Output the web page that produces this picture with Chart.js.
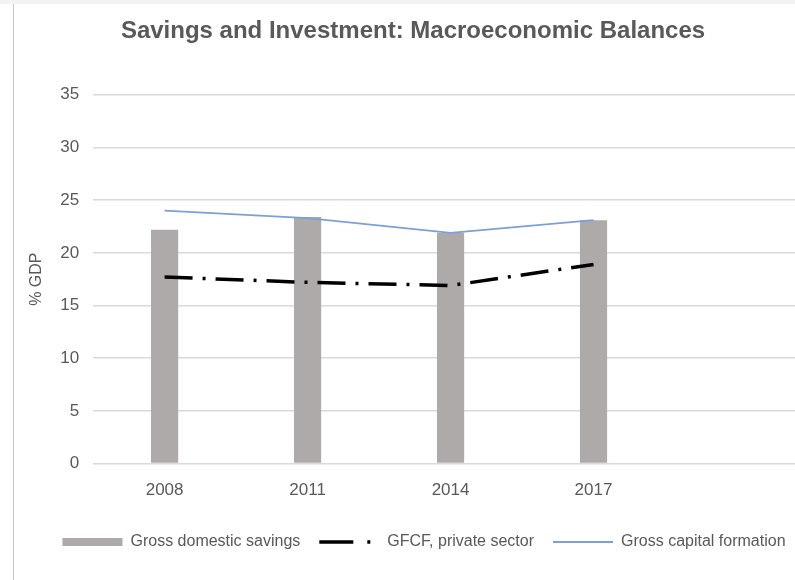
<!DOCTYPE html>
<html>
<head>
<meta charset="utf-8">
<script src="https://cdn.jsdelivr.net/npm/chart.js@4.4.0/dist/chart.umd.min.js"></script>
<style>
  html, body { margin: 0; padding: 0; background: #fff; overflow: hidden; }
  body { width: 795px; height: 580px; position: relative; }
  .topband { position: absolute; left: 0; top: 0; width: 795px; height: 4px; background: #f3f3f3; }
  .leftline { position: absolute; left: 13px; top: 4px; width: 1px; height: 576px; background: #c4c4c4; }
  .wrap { position: absolute; left: 14px; top: 4px; width: 812px; height: 576px; }
</style>
</head>
<body>
<div class="topband"></div>
<div class="leftline"></div>
<div class="wrap"><canvas id="chart" width="812" height="576"></canvas></div>
<script>
const years = ['2008', '2011', '2014', '2017', ''];
const grossDomesticSavings = [22.2, 23.4, 21.9, 23.1, null];
const gfcfPrivate = [17.7, 17.2, 16.9, 18.9, null];
const grossCapitalFormation = [24.0, 23.3, 21.9, 23.1, null];

const textColor = '#595959';
const fontFamily = '"Liberation Sans", Arial, sans-serif';

// the legend in the picture sits a little right of the title
const legendShift = {
  id: 'legendShift',
  afterLayout(chart) {
    const l = chart.legend;
    l.left += 11;
    l.right += 11;
    l.top -= 3;
    l.bottom -= 3;
  }
};

var ctx = document.getElementById('chart').getContext('2d');

var myChart = new Chart(ctx, {
  type: 'bar',
  data: {
    labels: years,
    datasets: [{
      type: 'bar',
      label: 'Gross domestic savings',
      data: grossDomesticSavings,
      backgroundColor: '#aeaaa9',
      borderWidth: 0,
      categoryPercentage: 1,
      barPercentage: 0.19,
      order: 3
    },
    {
      type: 'line',
      label: 'GFCF, private sector',
      data: gfcfPrivate,
      borderColor: '#000000',
      backgroundColor: '#000000',
      borderWidth: 3.5,
      borderDash: [28, 10, 3, 10],
      pointRadius: 0,
      tension: 0,
      order: 2
    },
    {
      type: 'line',
      label: 'Gross capital formation',
      data: grossCapitalFormation,
      borderColor: '#7c9fd9',
      backgroundColor: '#7c9fd9',
      borderWidth: 1.8,
      pointRadius: 0,
      tension: 0,
      order: 1
    }]
  },
  plugins: [legendShift],
  options: {
    responsive: false,
    animation: false,
    layout: { padding: { left: 4, right: 18, bottom: 17 } },
    plugins: {
      title: {
        display: true,
        text: 'Savings and Investment: Macroeconomic Balances',
        color: textColor,
        font: { family: fontFamily, size: 24, weight: 'bold' },
        padding: { top: 13, bottom: 49 }
      },
      legend: {
        position: 'bottom',
        labels: {
          color: textColor,
          font: { family: fontFamily, size: 16 },
          usePointStyle: true,
          pointStyleWidth: 60,
          boxHeight: 8,
          padding: 19,
          sort: function (a, b) { return a.datasetIndex - b.datasetIndex; },
          generateLabels: function (chart) {
            const items = Chart.defaults.plugins.legend.labels.generateLabels(chart);
            items.forEach(function (item) {
              if (item.datasetIndex === 0) {
                item.pointStyle = 'rect';
                item.lineWidth = 0;
              } else if (item.datasetIndex === 1) {
                item.pointStyle = 'line';
                item.lineWidth = 3.5;
                item.lineDash = [34, 14, 3, 100];
              } else {
                item.pointStyle = 'line';
                item.lineWidth = 2;
              }
            });
            return items;
          }
        }
      },
      tooltip: { enabled: false }
    },
    scales: {
      x: {
        grid: { display: false, drawTicks: false },
        border: { display: false },
        ticks: {
          color: textColor,
          font: { family: fontFamily, size: 17 },
          padding: 17
        }
      },
      y: {
        min: 0,
        max: 35,
        ticks: {
          stepSize: 5,
          color: textColor,
          font: { family: fontFamily, size: 17 },
          padding: 14
        },
        grid: { color: '#dadada', lineWidth: 1.5, drawTicks: false },
        border: { display: false },
        title: {
          display: true,
          text: '% GDP',
          color: textColor,
          font: { family: fontFamily, size: 16 },
          padding: { top: 9, bottom: 0 }
        }
      }
    }
  }
});
</script>
</body>
</html>
